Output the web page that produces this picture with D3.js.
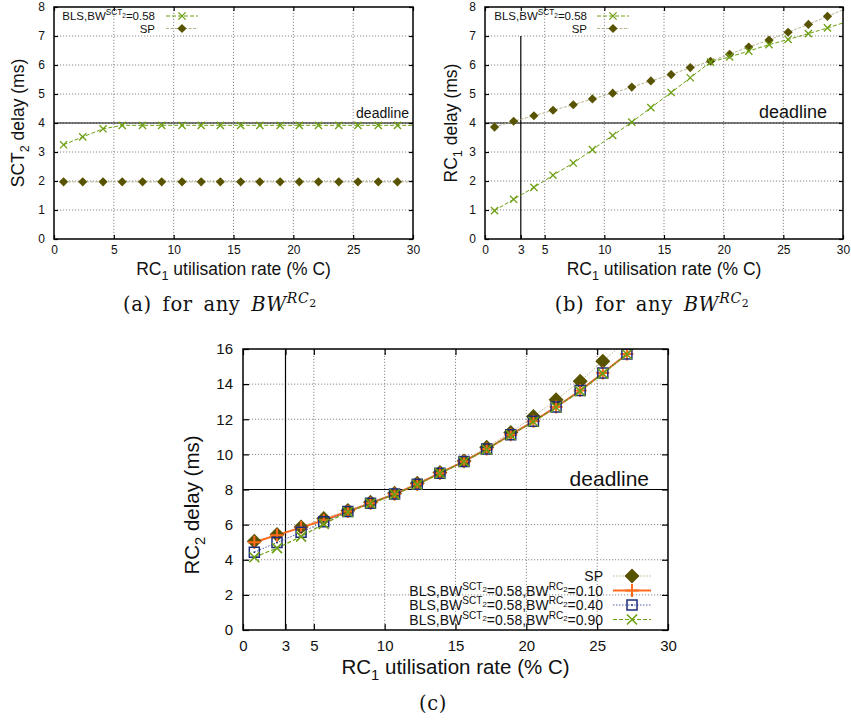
<!DOCTYPE html>
<html>
<head>
<meta charset="utf-8">
<script src="https://cdn.jsdelivr.net/npm/d3@7"></script>
<style>
  body { margin: 0; background: #fff; }
  svg { display: block; }
  text { font-family: "Liberation Sans", Arial, sans-serif; fill: #111; }
</style>
</head>
<body>
<svg id="fig" width="851" height="722"></svg>
<script>
// RC1 utilisation rate (% of C) at which the delays were measured
const rcRate = [0.8, 2.4, 4.1, 5.7, 7.4, 9.0, 10.7, 12.3, 13.9, 15.6, 17.2, 18.9, 20.5, 22.1, 23.8, 25.4, 27.1, 28.7, 30.4];

// (a) SCT2 delay (ms)
const sct2Bls = [3.25, 3.52, 3.80, 3.92, 3.92, 3.92, 3.92, 3.92, 3.92, 3.92, 3.92, 3.92, 3.92, 3.92, 3.92, 3.92, 3.92, 3.92, 3.92];
const sct2Sp  = [1.97, 1.97, 1.97, 1.97, 1.97, 1.97, 1.97, 1.97, 1.97, 1.97, 1.97, 1.97, 1.97, 1.97, 1.97, 1.97, 1.97, 1.97, 1.97];

// (b) RC1 delay (ms)
const rc1Bls = [0.98, 1.37, 1.78, 2.20, 2.62, 3.08, 3.57, 4.03, 4.53, 5.05, 5.56, 6.10, 6.28, 6.48, 6.70, 6.88, 7.08, 7.28, 7.50];
const rc1Sp  = [3.86, 4.06, 4.25, 4.44, 4.63, 4.83, 5.03, 5.24, 5.45, 5.67, 5.91, 6.13, 6.37, 6.62, 6.86, 7.13, 7.40, 7.68, 7.97];

// (c) RC2 delay (ms)
const rc2Sp    = [5.05, 5.44, 5.87, 6.35, 6.80, 7.27, 7.78, 8.35, 8.97, 9.62, 10.41, 11.25, 12.16, 13.11, 14.16, 15.30, 16.50, 17.80, 19.20];
const rc2Bw010 = [5.00, 5.40, 5.83, 6.25, 6.75, 7.22, 7.74, 8.30, 8.93, 9.60, 10.30, 11.12, 11.88, 12.70, 13.63, 14.63, 15.72, 16.85, 18.00];
const rc2Bw040 = [4.43, 4.98, 5.56, 6.16, 6.75, 7.22, 7.74, 8.30, 8.93, 9.60, 10.30, 11.12, 11.88, 12.70, 13.63, 14.63, 15.72, 16.85, 18.00];
const rc2Bw090 = [4.14, 4.66, 5.32, 6.04, 6.72, 7.20, 7.72, 8.28, 8.92, 9.58, 10.28, 11.10, 11.86, 12.68, 13.60, 14.60, 15.70, 16.85, 18.00];

// axis ticks, grid positions and reference levels
const xTicksA  = [0, 5, 10, 15, 20, 25, 30];
const xTicksBC = [0, 3, 5, 10, 15, 20, 25, 30];
const xGrid    = [5, 10, 15, 20, 25];
const yTicksAB = [0, 1, 2, 3, 4, 5, 6, 7, 8];
const yTicksC  = [0, 2, 4, 6, 8, 10, 12, 14, 16];
const deadlineAB = 4;
const deadlineC  = 8;
const markRate   = 3;

const COL = {
  olive: "#585300",
  tan: "#b9b38f",
  green: "#6d9f12",
  orange: "#ff6a1c",
  navy: "#1c2c7c",
  navyLine: "#5060a8"
};

const svg = d3.select("#fig");
let clipId = 0;

// text with sub/superscripts: parts = [[text, kind, italic]], kind in n | sup | sub | supsub
function rich(textSel, parts, size) {
  const off = { n: 0, sup: -0.42, sub: 0.30, supsub: -0.22 };
  const sz  = { n: 1, sup: 0.72, sub: 0.72, supsub: 0.56 };
  let cur = 0;
  parts.forEach(([t, k = "n", it = false]) => {
    const o = off[k] * size;
    const ts = textSel.append("tspan")
      .attr("dy", (o - cur).toFixed(2))
      .attr("font-size", (sz[k] * size).toFixed(2))
      .text(t);
    if (it) ts.attr("font-style", "italic");
    cur = o;
  });
}

function markerPath(type, s) {
  switch (type) {
    case "cross":   return `M${-s},${-s}L${s},${s}M${-s},${s}L${s},${-s}`;
    case "diamond": return `M0,${-s}L${s},0L0,${s}L${-s},0Z`;
    case "plus":    return `M${-s},0H${s}M0,${-s}V${s}`;
    case "square":  return `M${-s},${-s}H${s}V${s}H${-s}Z`;
  }
}

function drawMarker(g, st, cx, cy) {
  const p = g.append("path")
    .attr("transform", `translate(${cx},${cy})`)
    .attr("d", markerPath(st.marker, st.size));
  if (st.marker === "diamond") {
    p.attr("fill", st.mcolor).attr("stroke", "none");
  } else {
    p.attr("fill", "none").attr("stroke", st.mcolor).attr("stroke-width", st.mwidth);
  }
  if (st.marker === "square") {
    g.append("circle").attr("cx", cx).attr("cy", cy).attr("r", 0.9).attr("fill", st.mcolor);
  }
}

function panel(cfg) {
  const g = svg.append("g");
  const x = d3.scaleLinear().domain([0, 30]).range([cfg.left, cfg.right]);
  const y = d3.scaleLinear().domain([0, cfg.yMax]).range([cfg.bottom, cfg.top]);

  const id = "clip" + (clipId++);
  svg.append("clipPath").attr("id", id).append("rect")
    .attr("x", cfg.left).attr("y", cfg.top)
    .attr("width", cfg.right - cfg.left).attr("height", cfg.bottom - cfg.top);

  // dotted grid
  const grid = g.append("g").attr("stroke", "#8a8a8a").attr("stroke-width", 1)
    .attr("stroke-dasharray", "1.2,1.8");
  xGrid.forEach(v => grid.append("line")
    .attr("x1", x(v)).attr("x2", x(v)).attr("y1", cfg.bottom).attr("y2", cfg.top));
  cfg.yTicks.filter(v => v > 0 && v < cfg.yMax).forEach(v => grid.append("line")
    .attr("x1", cfg.left).attr("x2", cfg.right).attr("y1", y(v)).attr("y2", y(v)));

  // deadline and utilisation markers
  g.append("line").attr("x1", cfg.left).attr("x2", cfg.right)
    .attr("y1", y(cfg.deadline)).attr("y2", y(cfg.deadline))
    .attr("stroke", "#000").attr("stroke-width", 1.2);
  if (cfg.markTop != null) {
    g.append("line").attr("x1", x(markRate)).attr("x2", x(markRate))
      .attr("y1", y(0)).attr("y2", y(cfg.markTop))
      .attr("stroke", "#000").attr("stroke-width", 1.2);
  }
  g.append("text").attr("x", cfg.deadlineX).attr("y", y(cfg.deadline) - cfg.deadlineGap)
    .attr("text-anchor", "end").attr("font-size", cfg.deadlineFont).text("deadline");

  // series
  const plot = g.append("g").attr("clip-path", `url(#${id})`);
  cfg.series.forEach(st => {
    const pts = rcRate.map((r, i) => [r, st.values[i]]);
    plot.append("path")
      .attr("d", d3.line().x(d => x(d[0])).y(d => y(d[1]))(pts))
      .attr("fill", "none").attr("stroke", st.lcolor).attr("stroke-width", st.lwidth)
      .attr("stroke-dasharray", st.dash || null);
  });
  cfg.series.forEach(st => {
    rcRate.forEach((r, i) => {
      const v = st.values[i];
      if (r <= 30 && v <= cfg.yMax) drawMarker(plot, st, x(r), y(v));
    });
  });

  // frame and inward ticks on all sides
  g.append("rect").attr("x", cfg.left).attr("y", cfg.top)
    .attr("width", cfg.right - cfg.left).attr("height", cfg.bottom - cfg.top)
    .attr("fill", "none").attr("stroke", "#000").attr("stroke-width", 1.5);

  const fmt = d3.format("d");
  const axes = [
    [d3.axisBottom(x).tickValues(cfg.xTicks).tickFormat(fmt), `translate(0,${cfg.bottom})`, cfg.xPad],
    [d3.axisTop(x).tickValues(cfg.xTicks).tickFormat(""), `translate(0,${cfg.top})`, 0],
    [d3.axisLeft(y).tickValues(cfg.yTicks).tickFormat(fmt), `translate(${cfg.left},0)`, cfg.yPad],
    [d3.axisRight(y).tickValues(cfg.yTicks).tickFormat(""), `translate(${cfg.right},0)`, 0]
  ];
  axes.forEach(([ax, tr, pad]) => {
    const a = g.append("g").attr("transform", tr)
      .call(ax.tickSizeInner(-cfg.tick).tickSizeOuter(0).tickPadding(pad));
    a.select(".domain").remove();
    a.selectAll("line").attr("stroke", "#000").attr("stroke-width", 1.2);
    a.selectAll("text").attr("font-family", null).attr("font-size", cfg.tickFont).attr("fill", "#111");
    // mirror axes carry no labels at all
    a.selectAll("text").filter(function () { return !this.textContent; }).remove();
  });

  // axis titles
  rich(g.append("text").attr("x", (cfg.left + cfg.right) / 2).attr("y", cfg.xTitleY)
    .attr("text-anchor", "middle").attr("font-size", cfg.titleFont),
    [["RC"], ["1", "sub"], [" utilisation rate (% C)"]], cfg.titleFont);
  rich(g.append("text")
    .attr("transform", `translate(${cfg.yTitleX},${cfg.yTitleY}) rotate(-90)`)
    .attr("text-anchor", "middle").attr("font-size", cfg.titleFont),
    cfg.yTitle, cfg.titleFont);

  // key
  cfg.series.slice().sort((a, b) => a.keyRow - b.keyRow).forEach(st => {
    const ky = cfg.keyY + st.keyRow * cfg.keyStep;
    rich(g.append("text").attr("x", cfg.keyTextX).attr("y", ky + cfg.keyFont * 0.36)
      .attr("text-anchor", "end").attr("font-size", cfg.keyFont), st.label, cfg.keyFont);
    g.append("line").attr("x1", cfg.keyLine[0]).attr("x2", cfg.keyLine[1])
      .attr("y1", ky).attr("y2", ky)
      .attr("stroke", st.lcolor).attr("stroke-width", st.lwidth)
      .attr("stroke-dasharray", st.dash || null);
    drawMarker(g, st, (cfg.keyLine[0] + cfg.keyLine[1]) / 2, ky);
  });

  // caption
  const cap = svg.append("text").attr("x", cfg.capX).attr("y", cfg.capY)
    .attr("text-anchor", "middle").attr("font-size", 19.5)
    .style("font-family", "'DejaVu Serif', 'Liberation Serif', serif")
    .style("letter-spacing", "0.6px").style("word-spacing", "4px")
    .attr("fill", "#222");
  rich(cap, cfg.caption, 19.5);
}

const forAny = [["for any "], ["BW", "n", true], ["RC", "sup", true], ["2", "supsub"]];

const blsSmall = { lcolor: COL.green, lwidth: 1, dash: "4,2", marker: "cross", size: 3.6, mcolor: COL.green, mwidth: 1.3 };
const spSmall  = { lcolor: COL.tan, lwidth: 1, dash: "3,1.5", marker: "diamond", size: 4.6, mcolor: COL.olive };
const blsKey = [["BLS,BW"], ["SCT", "sup"], ["2", "supsub"], ["=0.58"]];

const layoutAB = {
  top: 7, bottom: 239, yMax: 8, yTicks: yTicksAB, deadline: deadlineAB,
  tick: 4, tickFont: 12, xPad: 6, yPad: 9, titleFont: 17.5, xTitleY: 275, yTitleY: 123,
  keyY: 16, keyStep: 12.5, keyFont: 11.5, capY: 311
};

// (a) SCT2 delay
panel(Object.assign({}, layoutAB, {
  left: 54, right: 413, xTicks: xTicksA, markTop: null,
  deadlineX: 409, deadlineGap: 5, deadlineFont: 14,
  yTitleX: 24, yTitle: [["SCT"], ["2", "sub"], [" delay (ms)"]],
  keyTextX: 155, keyLine: [166, 198],
  series: [
    Object.assign({ values: sct2Sp, keyRow: 1, label: [["SP"]] }, spSmall),
    Object.assign({ values: sct2Bls, keyRow: 0, label: blsKey }, blsSmall)
  ],
  capX: 220, caption: [["(a) "]].concat(forAny)
}));

// (b) RC1 delay
panel(Object.assign({}, layoutAB, {
  left: 485, right: 843, xTicks: xTicksBC, markTop: 7,
  deadlineX: 827, deadlineGap: 5, deadlineFont: 18,
  yTitleX: 457, yTitle: [["RC"], ["1", "sub"], [" delay (ms)"]],
  keyTextX: 587, keyLine: [597, 629],
  series: [
    Object.assign({ values: rc1Sp, keyRow: 1, label: [["SP"]] }, spSmall),
    Object.assign({ values: rc1Bls, keyRow: 0, label: blsKey }, blsSmall)
  ],
  capX: 652, caption: [["(b) "]].concat(forAny)
}));

// (c) RC2 delay for three RC2 bandwidth shares
const bwKey = v => [["BLS,BW"], ["SCT", "sup"], ["2", "supsub"], ["=0.58,BW"], ["RC", "sup"], ["2", "supsub"], ["=" + v]];
panel({
  left: 243, right: 668, top: 349, bottom: 630, yMax: 16, yTicks: yTicksC,
  xTicks: xTicksBC, deadline: deadlineC, markTop: 16,
  tick: 6, tickFont: 15, xPad: 10, yPad: 10, titleFont: 20.5, xTitleY: 674,
  yTitleX: 199, yTitleY: 505, yTitle: [["RC"], ["2", "sub"], [" delay (ms)"]],
  deadlineX: 649, deadlineGap: 4, deadlineFont: 21,
  keyTextX: 603, keyLine: [613, 651], keyY: 576, keyStep: 14.5, keyFont: 14,
  series: [
    { values: rc2Sp, keyRow: 0, label: [["SP"]], lcolor: COL.tan, lwidth: 1, dash: "1.5,1.5",
      marker: "diamond", size: 7.5, mcolor: COL.olive },
    { values: rc2Bw010, keyRow: 1, label: bwKey("0.10"), lcolor: COL.orange, lwidth: 2,
      marker: "plus", size: 6.5, mcolor: COL.orange, mwidth: 2 },
    { values: rc2Bw040, keyRow: 2, label: bwKey("0.40"), lcolor: COL.navyLine, lwidth: 1, dash: "1.5,1.5",
      marker: "square", size: 5, mcolor: COL.navy, mwidth: 1.5 },
    { values: rc2Bw090, keyRow: 3, label: bwKey("0.90"), lcolor: COL.green, lwidth: 1.2, dash: "4,2",
      marker: "cross", size: 5, mcolor: COL.green, mwidth: 1.6 }
  ],
  capX: 433, capY: 710, caption: [["(c)"]]
});
</script>
</body>
</html>
